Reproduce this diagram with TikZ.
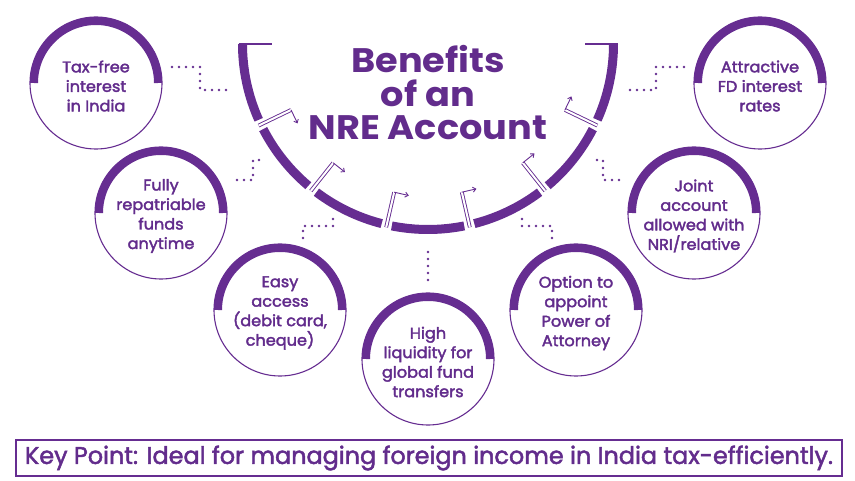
\documentclass[tikz,border=0pt]{standalone}
\usepackage{fontspec}
\setmainfont{Poppins}
\newfontfamily\ttlfont{Poppins}[FakeStretch=1.08]
\newfontfamily\cfont{Poppins}[FakeBold=2.4, FakeStretch=1.04]
\newfontfamily\kfont{Poppins}[FakeBold=2]
\usetikzlibrary{calc,arrows.meta}
\definecolor{purp}{RGB}{102,45,145}
\definecolor{tpurp}{RGB}{98,44,140}
\begin{document}
\begin{tikzpicture}[x=1pt,y=-1pt,
  dots/.style={purp, line width=2.6pt, line cap=round, dash pattern=on 0pt off 7pt},
  circbox/.style={circle, draw=purp, line width=1.1pt, minimum size=132pt, inner sep=0pt},
  ctext/.style={align=center, text=tpurp, inner sep=0pt, font=\cfont\fontsize{15.5pt}{19.5pt}\selectfont},
  thickarc/.style={purp, line width=8pt},
  seg/.style={purp, line width=9pt},
  pipe/.style={purp, line width=0.9pt, double=white, double distance=2pt},
  tipline/.style={purp, line width=0.9pt, -{Straight Barb[length=3pt,width=5pt]}},
  ttl/.style={text=tpurp, font=\ttlfont\fontsize{34pt}{36pt}\selectfont\bfseries, anchor=base, inner sep=0pt},
  tick/.style={purp, line width=1.6pt}
]
\useasboundingbox (0,0) rectangle (855,481);

% big segmented arc
\coordinate (C) at (428,44);
\foreach \k in {0,...,6} {
  \pgfmathsetmacro\s{180+\k*180/7 + (\k>0 ? 1.6 : 0)}
  \pgfmathsetmacro\e{180+(\k+1)*180/7 - (\k<6 ? 1.6 : 0)}
  \draw[seg] ($(C)+(\s:185.5pt)$) arc[start angle=\s, end angle=\e, radius=185.5pt];
}
\coordinate (tl) at (238.5,44);
\coordinate (tr) at (617.5,44);
\draw[tick] (tl) -- ++(33,0);
\draw[tick] (tr) -- ++(-33,0);
\foreach \k in {1,...,6} {
  \pgfmathsetmacro\g{180+\k*180/7}
  \pgfmathsetmacro\t{\g+90}
  \draw[pipe] ($(C)+(\g:188pt)$) -- ($(C)+(\g:152pt)$);
  \draw[tipline] ($(C)+(\g:152pt)$) -- ($(C)+(\g:152pt)+(\t:15pt)$);
}

% title
\node[ttl] (t1) at (428,73) {Benefits};
\node[ttl] (t2) at (428,107) {of an};
\node[ttl] (t3) at (428,140) {NRE Account};

% circles
\foreach \n/\x/\y/\txt in {
  1/96/83/{Tax-free\\interest\\in India},
  2/161/213/{Fully\\repatriable\\funds\\anytime},
  3/280/310/{Easy\\access\\(debit card,\\cheque)},
  4/428/359/{High\\liquidity for\\global fund\\transfers},
  5/576/310/{Option to\\appoint\\Power of\\Attorney},
  6/694/213/{Joint\\account\\allowed with\\NRI/relative},
  7/760/83/{Attractive\\FD interest\\rates}} {
  \node[circbox] (c\n) at (\x,\y) {};
  \draw[thickarc] ($(c\n.center)+(180:62pt)$) arc[start angle=180, end angle=0, radius=62pt];
  \node[ctext] (txt\n) at ($(c\n.center)+(0,3)$) {\txt};
}

% dotted connectors
\coordinate (d1a) at (172,67);  \coordinate (d1b) at (230,90);
\coordinate (d2a) at (237,180); \coordinate (d2b) at (266,160);
\coordinate (d3a) at (303,238); \coordinate (d3b) at (333,215);
\coordinate (d4a) at (428,280); \coordinate (d4b) at (428,245);
\coordinate (d5a) at (552,238); \coordinate (d5b) at (522,215);
\coordinate (d6a) at (619,180); \coordinate (d6b) at (590,160);
\coordinate (d7a) at (684,67);  \coordinate (d7b) at (626,90);
\draw[dots] (d1a) -- ++(28,0) |- (d1b);
\draw[dots] (d2a) -- ++(16,0) |- (d2b);
\draw[dots] (d3a) -- ++(0,-12) -| (d3b);
\draw[dots] (d4a) -- (d4b);
\draw[dots] (d5a) -- ++(0,-12) -| (d5b);
\draw[dots] (d6a) -- ++(-16,0) |- (d6b);
\draw[dots] (d7a) -- ++(-28,0) |- (d7b);

% key point box
\node[draw=purp, line width=1.5pt, minimum width=826pt, minimum height=36pt, inner sep=0pt, text=tpurp] (kp) at (429,458)
  {\resizebox{808pt}{\height}{\kfont\fontsize{24pt}{28pt}\selectfont Key Point: Ideal for managing foreign income in India tax-efficiently.}};
\end{tikzpicture}
\end{document}
